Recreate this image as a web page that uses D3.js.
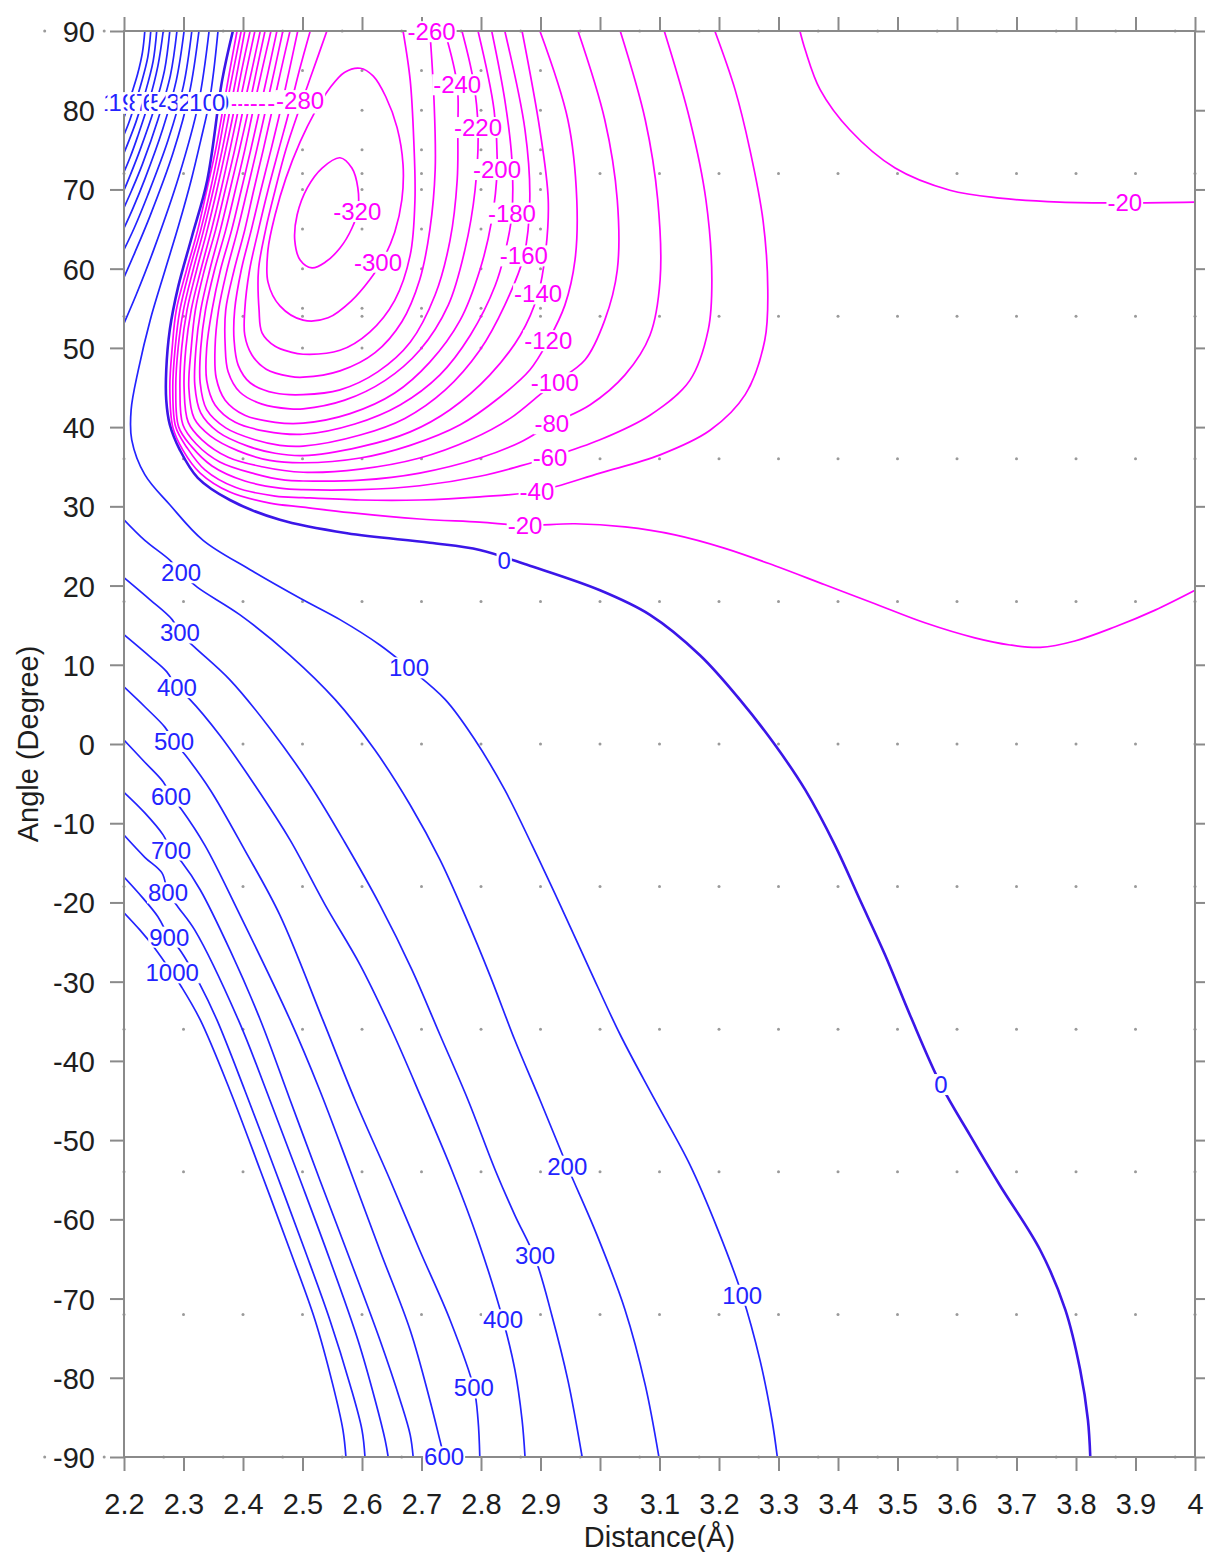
<!DOCTYPE html>
<html><head><meta charset="utf-8">
<script src="https://cdn.jsdelivr.net/npm/d3@7"></script>
<style>body{margin:0;background:#fff} text{font-family:"Liberation Sans",Arial,Helvetica,sans-serif}</style>
</head><body><svg id="chart" width="1206" height="1552"></svg>
<script>
// ---------- tick labels ----------
const xTickValues = [2.2,2.3,2.4,2.5,2.6,2.7,2.8,2.9,3,3.1,3.2,3.3,3.4,3.5,3.6,3.7,3.8,3.9,4];
const yTickValues = [90,80,70,60,50,40,30,20,10,0,-10,-20,-30,-40,-50,-60,-70,-80,-90];
// ---------- data grid points (gray dots) ----------
const dotCols = [2.2,2.3,2.4,2.5,2.6,2.7,2.8,2.9,3.0,3.1,3.2,3.3,3.4,3.5,3.6,3.7,3.8,3.9,4.0];
const dotRows = [72,54,36,18,0,-18,-36,-54,-72];
const denseCols = [2.5,2.6,2.7,2.8,2.9];
const denseRows = [85,80,75,70,65,60,55,50];
const edgeCols = [2.0667,2.1667,2.2667,2.3667,2.4667,2.5667,2.6667,2.7667,2.8667,2.9667,3.0667,3.1667,3.2667,3.3667,3.4667,3.5667,3.6667,3.7667,3.8667,3.9667];
const edgeRows = [90,-90];

// ---------- contour lines [distance, angle] ----------
const c0 = [[2.383,90],[2.365,83.8],[2.340,71.2],[2.314,64.0],[2.291,57.7],[2.277,52.3],[2.271,47.2],[2.271,43.4],[2.277,40.3],[2.294,37.1],[2.324,33.6],[2.378,30.8],[2.462,28.3],[2.575,26.6],[2.714,25.4],[2.798,24.5],[2.882,22.5],[3.000,19.4],[3.084,16.3],[3.168,11.2],[3.235,5.6],[3.294,-0.1],[3.345,-5.8],[3.395,-12.8],[3.437,-19.7],[3.479,-26.6],[3.521,-34.2],[3.573,-43.0],[3.622,-49.4],[3.672,-55.7],[3.740,-63.9],[3.782,-71.4],[3.807,-79.0],[3.820,-85.3],[3.824,-90]];
const c100 = [[2.358,90],[2.351,85.1],[2.343,80.9],[2.329,76.2],[2.313,71.2],[2.292,65.5],[2.269,59.8],[2.244,53.5],[2.224,47.2],[2.212,42.2],[2.213,38.4],[2.235,34.0],[2.277,30.2],[2.333,25.7],[2.412,22.0],[2.496,18.4],[2.563,15.7],[2.630,12.5],[2.679,9.6],[2.740,5.6],[2.790,0.5],[2.840,-5.8],[2.886,-12.8],[2.933,-20.3],[2.983,-28.5],[3.034,-36.7],[3.092,-44.9],[3.151,-53.1],[3.198,-61.3],[3.239,-69.6],[3.269,-77.8],[3.289,-85.3],[3.298,-90]];
const c200u = [[2.343,90],[2.325,80.8],[2.292,71.6],[2.250,62.4],[2.221,56.8],[2.2,53.1]];
const c200 = [[2.2,28.3],[2.235,25.7],[2.277,23.2],[2.296,21.6],[2.323,19.8],[2.395,16.3],[2.479,11.2],[2.555,5.6],[2.622,-0.8],[2.681,-7.7],[2.731,-14.6],[2.773,-21.6],[2.815,-29.2],[2.857,-37.4],[2.899,-44.9],[2.945,-53.3],[2.995,-62.0],[3.042,-71.4],[3.076,-80.9],[3.099,-90]];
const c300u = [[2.326,90],[2.310,82.2],[2.282,74.5],[2.244,66.7],[2.218,62.0],[2.2,58.9]];
const c300 = [[2.2,21.0],[2.244,18.2],[2.281,15.7],[2.294,14.0],[2.319,12.2],[2.378,8.1],[2.445,2.0],[2.513,-5.2],[2.571,-12.4],[2.630,-20.3],[2.684,-28.5],[2.731,-36.7],[2.778,-44.9],[2.824,-53.8],[2.857,-59.5],[2.891,-64.9],[2.919,-72.1],[2.946,-80.3],[2.970,-90]];
const c400u = [[2.314,90],[2.300,83.1],[2.274,76.2],[2.240,69.3],[2.217,65.1],[2.2,62.4]];
const c400 = [[2.2,13.8],[2.244,11.0],[2.272,9.1],[2.289,7.1],[2.311,5.6],[2.361,1.1],[2.420,-5.2],[2.479,-12.1],[2.538,-20.3],[2.597,-27.9],[2.650,-36.1],[2.701,-44.9],[2.751,-53.8],[2.795,-62.6],[2.837,-72.7],[2.857,-79.0],[2.869,-85.3],[2.874,-90]];
const c500u = [[2.301,90],[2.288,83.8],[2.265,77.6],[2.235,71.3],[2.215,67.6],[2.2,65.1]];
const c500 = [[2.2,7.2],[2.235,4.7],[2.269,2.1],[2.284,0.3],[2.303,-1.4],[2.345,-5.8],[2.403,-13.4],[2.462,-21.6],[2.534,-34.8],[2.588,-44.9],[2.647,-55.0],[2.697,-63.9],[2.748,-72.7],[2.788,-81.3],[2.795,-85.3],[2.798,-90]];
const c600u = [[2.289,90],[2.278,84.4],[2.257,78.8],[2.231,73.2],[2.213,69.9],[2.2,67.7]];
const c600 = [[2.2,0.5],[2.235,-2.3],[2.266,-4.8],[2.279,-6.6],[2.297,-8.3],[2.336,-12.8],[2.395,-21.6],[2.479,-34.8],[2.529,-43.7],[2.580,-53.8],[2.630,-63.9],[2.681,-74.0],[2.714,-82.8],[2.731,-87.9],[2.738,-90]];
const c700u = [[2.277,90],[2.268,85.0],[2.250,80.0],[2.227,75.0],[2.211,71.9],[2.2,69.9]];
const c700 = [[2.2,-6.1],[2.235,-8.7],[2.266,-11.5],[2.279,-13.4],[2.297,-14.9],[2.328,-18.4],[2.378,-26.0],[2.429,-34.8],[2.479,-44.9],[2.529,-55.0],[2.580,-65.1],[2.630,-75.2],[2.664,-82.8],[2.681,-87.2],[2.686,-90]];
const c800u = [[2.266,90],[2.257,85.6],[2.242,81.1],[2.223,76.7],[2.210,74.0],[2.2,72.2]];
const c800 = [[2.2,-11.5],[2.235,-14.3],[2.264,-16.3],[2.274,-18.8],[2.291,-20.6],[2.319,-23.5],[2.392,-34.8],[2.445,-44.9],[2.496,-55.0],[2.546,-65.1],[2.593,-75.2],[2.622,-82.8],[2.639,-87.9],[2.644,-90]];
const c900u = [[2.255,90],[2.249,86.2],[2.236,82.3],[2.220,78.5],[2.208,76.1],[2.2,74.6]];
const c900 = [[2.2,-16.8],[2.230,-19.3],[2.257,-21.8],[2.276,-24.4],[2.294,-26.0],[2.328,-30.4],[2.356,-34.8],[2.403,-43.7],[2.454,-53.8],[2.504,-63.9],[2.546,-72.7],[2.580,-80.9],[2.600,-86.6],[2.605,-90]];
const c1000u = [[2.245,90],[2.240,86.7],[2.229,83.4],[2.216,80.2],[2.207,78.2],[2.2,76.9]];
const c1000 = [[2.2,-21.3],[2.227,-23.5],[2.252,-25.8],[2.281,-28.9],[2.297,-30.7],[2.328,-34.8],[2.378,-43.7],[2.429,-53.8],[2.479,-63.9],[2.521,-72.7],[2.551,-80.9],[2.568,-86.6],[2.573,-90]];
const c1100u = [[2.235,90],[2.231,87.3],[2.223,84.6],[2.212,81.9],[2.205,80.2],[2.2,79.1]];

const m20a = [[2.390,90],[2.378,85.1],[2.366,80.0],[2.354,75.0],[2.339,69.9],[2.324,64.9],[2.305,59.8],[2.288,54.8],[2.281,50.0],[2.277,44.9],[2.282,40.0],[2.299,37.1],[2.328,34.2],[2.378,31.8],[2.445,30.4],[2.501,29.9],[2.580,29.2],[2.697,28.4],[2.798,28.0],[2.874,27.6],[2.958,27.8],[3.042,27.4],[3.126,26.4],[3.210,24.7],[3.294,22.5],[3.378,20.1],[3.462,17.7],[3.546,15.3],[3.630,13.4],[3.689,12.5],[3.740,12.2],[3.798,13.0],[3.866,14.8],[3.933,16.9],[4.0,19.4]];
const m20b = [[3.336,90],[3.345,87.6],[3.370,82.6],[3.420,77.5],[3.496,72.7],[3.588,69.9],[3.672,68.9],[3.773,68.4],[3.882,68.3],[4.0,68.4]];
const m40 = [[2.397,90],[2.384,85.1],[2.371,80.0],[2.359,75.0],[2.345,69.9],[2.329,64.9],[2.310,59.8],[2.294,54.8],[2.286,50.0],[2.282,44.9],[2.287,40.0],[2.306,37.4],[2.336,34.6],[2.387,32.4],[2.454,31.3],[2.501,31.1],[2.597,30.8],[2.697,30.8],[2.798,31.2],[2.894,31.9],[3.000,34.2],[3.101,36.5],[3.185,39.6],[3.244,44.1],[3.277,51.0],[3.282,57.3],[3.274,66.1],[3.252,75.0],[3.227,82.6],[3.193,90]];
const m60 = [[2.403,90],[2.391,85.1],[2.378,80.0],[2.365,75.0],[2.350,69.9],[2.334,64.9],[2.316,59.8],[2.300,54.8],[2.291,50.0],[2.287,44.9],[2.292,40.0],[2.313,37.6],[2.348,35.1],[2.403,33.2],[2.462,32.3],[2.501,32.1],[2.597,32.1],[2.697,32.6],[2.798,33.8],[2.866,35.1],[2.916,36.2],[3.000,38.4],[3.084,41.5],[3.151,45.9],[3.182,52.3],[3.188,58.6],[3.178,68.7],[3.151,78.8],[3.108,90]];
const m80 = [[2.412,90],[2.398,85.1],[2.385,80.0],[2.371,75.0],[2.356,69.9],[2.340,64.9],[2.322,59.8],[2.306,54.8],[2.297,50.0],[2.294,44.9],[2.299,40.3],[2.321,37.9],[2.361,35.6],[2.420,34.1],[2.471,33.3],[2.501,33.2],[2.597,33.3],[2.697,34.2],[2.798,36.1],[2.866,38.1],[2.919,40.4],[2.983,42.8],[3.042,46.6],[3.084,51.6],[3.101,58.6],[3.097,68.7],[3.076,78.8],[3.034,90]];
const m100 = [[2.420,90],[2.406,85.1],[2.392,80.0],[2.378,75.0],[2.363,69.9],[2.347,64.9],[2.329,59.8],[2.313,54.8],[2.304,50.0],[2.301,44.9],[2.308,40.6],[2.331,38.4],[2.375,36.2],[2.432,35.0],[2.501,34.3],[2.597,34.7],[2.697,36.1],[2.782,38.4],[2.849,41.1],[2.899,44.1],[2.924,45.6],[2.975,48.5],[3.008,53.5],[3.029,59.8],[3.029,68.7],[3.008,78.8],[2.963,90]];
const m120 = [[2.429,90],[2.415,85.1],[2.400,80.0],[2.386,75.0],[2.370,69.9],[2.354,64.9],[2.335,59.8],[2.320,54.8],[2.313,50.0],[2.309,44.9],[2.318,41.1],[2.345,38.9],[2.392,37.0],[2.445,35.8],[2.501,35.5],[2.597,36.1],[2.681,37.7],[2.765,40.3],[2.832,43.8],[2.882,47.2],[2.913,50.9],[2.941,55.4],[2.958,61.1],[2.961,68.7],[2.946,78.8],[2.899,90]];
const m140 = [[2.437,90],[2.423,85.1],[2.409,80.0],[2.394,75.0],[2.378,69.9],[2.362,64.9],[2.344,59.8],[2.329,54.8],[2.321,50.0],[2.319,45.3],[2.329,41.8],[2.358,39.4],[2.408,37.6],[2.454,36.7],[2.501,36.4],[2.597,37.5],[2.681,39.4],[2.748,42.2],[2.815,46.6],[2.866,51.6],[2.896,56.8],[2.909,62.4],[2.913,68.7],[2.899,77.5],[2.869,90]];
const m160 = [[2.447,90],[2.432,85.1],[2.417,80.0],[2.403,75.0],[2.387,69.9],[2.371,64.9],[2.352,59.8],[2.337,54.8],[2.329,50.0],[2.328,45.6],[2.339,42.2],[2.371,39.9],[2.420,38.4],[2.462,37.7],[2.501,37.6],[2.597,39.0],[2.672,41.1],[2.740,44.7],[2.798,49.7],[2.840,55.4],[2.872,61.6],[2.882,68.7],[2.874,77.5],[2.840,90]];
const m180 = [[2.457,90],[2.443,85.1],[2.428,80.0],[2.413,75.0],[2.397,69.9],[2.381,64.9],[2.362,59.8],[2.348,54.8],[2.339,50.0],[2.339,45.9],[2.353,42.8],[2.387,40.6],[2.437,39.5],[2.501,39.1],[2.588,40.4],[2.664,42.8],[2.731,46.6],[2.782,51.6],[2.824,57.9],[2.845,63.6],[2.852,67.0],[2.852,73.7],[2.840,81.3],[2.818,90]];
const m200 = [[2.467,90],[2.453,85.1],[2.438,80.0],[2.423,75.0],[2.407,69.9],[2.391,64.9],[2.373,59.8],[2.359,54.8],[2.353,50.0],[2.355,46.2],[2.370,43.4],[2.403,41.5],[2.454,40.6],[2.501,40.5],[2.580,41.7],[2.655,44.3],[2.714,48.2],[2.765,53.5],[2.798,59.8],[2.818,66.1],[2.827,72.5],[2.822,80.0],[2.795,90]];
const m220 = [[2.479,90],[2.464,85.1],[2.449,80.0],[2.434,75.0],[2.418,69.9],[2.403,64.9],[2.385,59.8],[2.371,54.8],[2.370,50.4],[2.375,47.0],[2.395,44.4],[2.432,42.9],[2.479,42.3],[2.501,42.3],[2.571,43.4],[2.639,45.9],[2.697,49.7],[2.745,55.4],[2.773,62.4],[2.790,69.9],[2.795,77.8],[2.787,83.8],[2.768,90]];
const m240 = [[2.492,90],[2.478,85.1],[2.463,80.0],[2.447,75.0],[2.430,69.9],[2.414,64.9],[2.397,59.8],[2.386,54.8],[2.385,51.0],[2.392,47.8],[2.412,45.6],[2.454,44.3],[2.501,44.1],[2.563,44.7],[2.627,47.0],[2.681,50.7],[2.723,56.7],[2.748,63.6],[2.760,71.2],[2.761,77.5],[2.760,83.2],[2.739,90]];
const m260 = [[2.513,90],[2.495,85.1],[2.478,80.0],[2.460,75.0],[2.442,69.9],[2.426,64.9],[2.411,59.8],[2.403,54.8],[2.403,51.6],[2.415,49.1],[2.439,47.3],[2.479,46.4],[2.501,46.3],[2.563,47.1],[2.622,49.4],[2.667,53.3],[2.697,58.6],[2.714,64.9],[2.723,72.5],[2.721,81.3],[2.714,90]];
const m280 = [[2.541,90],[2.518,85.1],[2.494,80.0],[2.472,75.0],[2.454,69.9],[2.438,64.9],[2.426,59.8],[2.427,54.8],[2.432,51.9],[2.454,50.2],[2.479,49.5],[2.501,49.2],[2.563,49.7],[2.613,52.0],[2.655,56.0],[2.681,61.7],[2.689,68.7],[2.687,76.2],[2.681,83.8],[2.669,90]];
const m300 = [[2.597,85.3],[2.571,84.8],[2.546,82.8],[2.521,79.8],[2.496,76.0],[2.472,71.4],[2.454,66.8],[2.442,62.4],[2.442,58.3],[2.462,55.3],[2.501,53.5],[2.543,53.8],[2.583,56.0],[2.613,58.6],[2.635,61.1],[2.655,64.6],[2.667,68.7],[2.669,73.1],[2.659,77.8],[2.640,81.7],[2.619,84.3]];
const m320 = [[2.563,74.0],[2.533,72.7],[2.508,70.2],[2.491,66.8],[2.487,63.6],[2.496,61.1],[2.516,60.1],[2.538,60.8],[2.563,62.6],[2.583,65.1],[2.593,67.4],[2.593,70.2],[2.583,72.7]];

// contour label positions [level, distance, angle]
const lineLabels = [
 [0,2.839,23.2],[0,3.573,-43.0],
 [100,2.679,9.6],[100,3.239,-69.6],
 [200,2.296,21.6],[200,2.945,-53.3],
 [300,2.294,14.0],[300,2.891,-64.6],
 [400,2.289,7.1],[400,2.837,-72.7],
 [500,2.284,0.3],[500,2.788,-81.3],
 [600,2.279,-6.6],[600,2.738,-90],
 [700,2.279,-13.4],[800,2.274,-18.8],[900,2.276,-24.4],[1000,2.281,-28.9],
 [-20,2.874,27.6],[-20,3.882,68.3],[-40,2.894,31.9],[-60,2.916,36.2],[-80,2.919,40.4],
 [-100,2.924,45.6],[-120,2.913,50.9],[-140,2.896,56.8],[-160,2.872,61.6],[-180,2.852,67.0],
 [-200,2.827,72.5],[-220,2.795,77.8],[-240,2.760,83.2],[-260,2.717,89.9],
 [-300,2.627,60.8],[-320,2.592,67.2],[-280,2.496,81.2]
];
const bandAngle = 80.9; // row where the crowded labels of the left wall sit

const contours = [
 {level:-20,pts:m20a},{level:-20,pts:m20b},{level:-40,pts:m40},{level:-60,pts:m60},{level:-80,pts:m80},
 {level:-100,pts:m100},{level:-120,pts:m120},{level:-140,pts:m140},{level:-160,pts:m160},{level:-180,pts:m180},
 {level:-200,pts:m200},{level:-220,pts:m220},{level:-240,pts:m240},{level:-260,pts:m260},{level:-280,pts:m280},
 {level:-300,pts:m300,closed:true},{level:-320,pts:m320,closed:true},
 {level:1100,pts:c1100u},{level:1000,pts:c1000u},{level:1000,pts:c1000},{level:900,pts:c900u},{level:900,pts:c900},
 {level:800,pts:c800u},{level:800,pts:c800},{level:700,pts:c700u},{level:700,pts:c700},{level:600,pts:c600u},{level:600,pts:c600},
 {level:500,pts:c500u},{level:500,pts:c500},{level:400,pts:c400u},{level:400,pts:c400},{level:300,pts:c300u},{level:300,pts:c300},
 {level:200,pts:c200u},{level:200,pts:c200},{level:100,pts:c100},{level:0,pts:c0}
];
const bandOrder = [
 [-20,m20a],[-40,m40],[-60,m60],[-80,m80],[-100,m100],[-120,m120],[-140,m140],[-160,m160],[-180,m180],[-200,m200],[-220,m220],[-240,m240],[-260,m260],
 [1100,c1100u],[1000,c1000u],[900,c900u],[800,c800u],[700,c700u],[600,c600u],[500,c500u],[400,c400u],[300,c300u],[200,c200u],[100,c100],[0,c0]
];

// ---------- drawing ----------
const W = 1206, H = 1552;
const L = 124, R = 1195, T = 31, B = 1457;
const svg = d3.select('#chart');
const x = d3.scaleLinear().domain([2.2,4]).range([L,R]);
const y = d3.scaleLinear().domain([-90,90]).range([B,T]);
const BLUE = '#2323ff', MAG = '#ff00ff', ZERO = '#3b16e8', GRAY = '#8a8a8a';
const col = v => v > 0 ? BLUE : (v === 0 ? ZERO : MAG);

svg.append('rect').attr('width',W).attr('height',H).attr('fill','#fff');
svg.append('defs').append('clipPath').attr('id','plotclip')
  .append('rect').attr('x',L).attr('y',T).attr('width',R-L).attr('height',B-T);

// dots
const dots = [];
dotRows.forEach(a => dotCols.forEach(d => dots.push([d,a])));
denseRows.forEach(a => denseCols.forEach(d => dots.push([d,a])));
edgeRows.forEach(a => edgeCols.forEach(d => dots.push([d,a])));
svg.append('g').selectAll('circle').data(dots).join('circle')
  .attr('cx',p=>x(p[0])).attr('cy',p=>y(p[1])).attr('r',1.5).attr('fill','#9a9a9a');

// contour lines
const lineOpen = d3.line().x(p=>x(p[0])).y(p=>y(p[1])).curve(d3.curveCatmullRom.alpha(0.5));
const lineClosed = d3.line().x(p=>x(p[0])).y(p=>y(p[1])).curve(d3.curveCatmullRomClosed.alpha(0.5));
svg.append('g').attr('clip-path','url(#plotclip)').selectAll('path').data(contours).join('path')
  .attr('d',c => (c.closed ? lineClosed : lineOpen)(c.pts))
  .attr('fill','none').attr('stroke',c=>col(c.level))
  .attr('stroke-width',c => c.level === 0 ? 2.6 : 1.7)
  .attr('stroke-linejoin','round');

// frame
svg.append('rect').attr('x',L).attr('y',T).attr('width',R-L).attr('height',B-T)
  .attr('fill','none').attr('stroke',GRAY).attr('stroke-width',2);

// axes
function styleAxis(g){
  g.select('.domain').remove();
  g.selectAll('.tick line').attr('stroke',GRAY).attr('stroke-width',2);
  g.selectAll('.tick text').attr('font-size',29).attr('fill','#1e1e1e')
    .attr('font-family','"Liberation Sans",Arial,sans-serif');
}
svg.append('g').attr('transform',`translate(0,${B})`)
  .call(d3.axisBottom(x).tickValues(xTickValues).tickFormat(v=>String(v)).tickSize(14).tickPadding(22)).call(styleAxis);
svg.append('g').attr('transform',`translate(0,${T})`)
  .call(d3.axisTop(x).tickValues(xTickValues).tickFormat('').tickSize(14)).call(styleAxis);
svg.append('g').attr('transform',`translate(${L},0)`)
  .call(d3.axisLeft(y).tickValues(yTickValues).tickFormat(v=>String(v)).tickSize(14).tickPadding(15)).call(styleAxis)
  .selectAll('.tick text').attr('dy','0.36em');
svg.append('g').attr('transform',`translate(${R},0)`)
  .call(d3.axisRight(y).tickValues(yTickValues).tickFormat('').tickSize(10)).call(styleAxis);

// axis titles
svg.append('text').attr('x',(L+R)/2).attr('y',1547).attr('text-anchor','middle')
  .attr('font-size',29).attr('fill','#1e1e1e').text('Distance(Å)');
svg.append('text').attr('transform','translate(38,744) rotate(-90)').attr('text-anchor','middle')
  .attr('font-size',29).attr('fill','#1e1e1e').text('Angle (Degree)');

// contour labels
const labG = svg.append('g');
function addLabel(level, d, a){
  const g = labG.append('g');
  const t = g.append('text').attr('x',x(d)).attr('y',y(a)).attr('dy','0.35em')
    .attr('text-anchor','middle').attr('font-size',24).attr('fill',level >= 0 ? BLUE : MAG)
    .text(String(level));
  const b = t.node().getBBox();
  g.insert('rect','text').attr('x',b.x-1).attr('y',b.y+3).attr('width',b.width+2).attr('height',b.height-6).attr('fill','#fff');
}
function crossAt(pts, a){
  for (let i=0;i<pts.length-1;i++){
    const p=pts[i], q=pts[i+1];
    if ((p[1]-a)*(q[1]-a) <= 0 && p[1] !== q[1]){
      const t=(a-p[1])/(q[1]-p[1]);
      return p[0]+t*(q[0]-p[0]);
    }
  }
  return null;
}
bandOrder.forEach(([lev,pts]) => { const d = crossAt(pts,bandAngle); if (d!==null) addLabel(lev,d,bandAngle); });
lineLabels.forEach(([lev,d,a]) => addLabel(lev,d,a));
</script>
</body></html>
